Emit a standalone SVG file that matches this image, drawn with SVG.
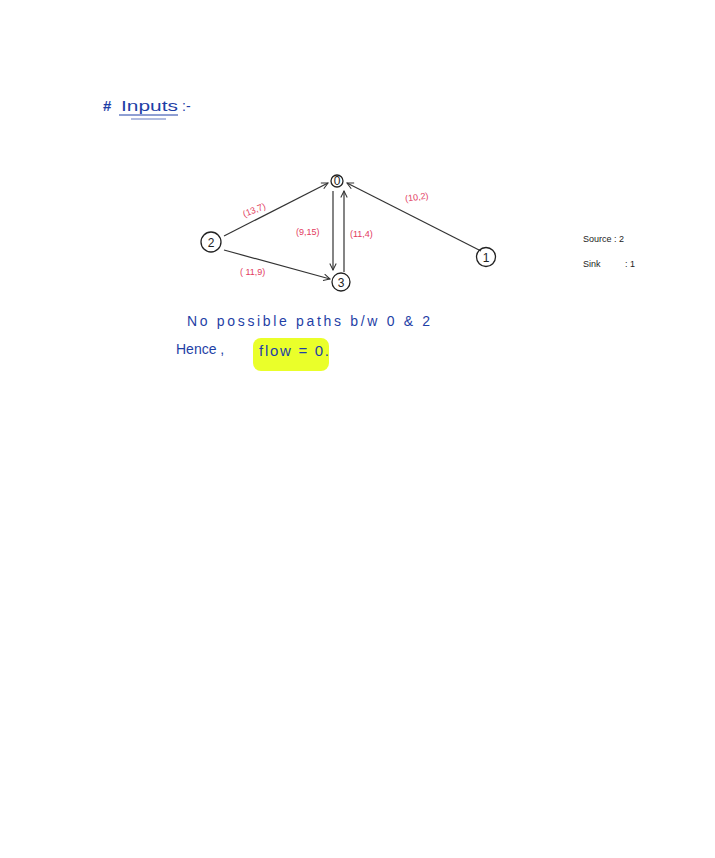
<svg xmlns="http://www.w3.org/2000/svg" width="715" height="858" viewBox="0 0 715 858">
<style>
.bg{fill:#ffffff}
.node circle{fill:none;stroke:#222;stroke-width:1.3}
.node text{font-family:"Liberation Sans",sans-serif;font-size:12px;fill:#222;text-anchor:middle}
.edge{stroke:#333;stroke-width:1.2;fill:none;marker-end:url(#ah)}
.lbl{font-family:"Liberation Sans",sans-serif;font-size:9px;fill:#e23b5e}
.blue{font-family:"Liberation Sans",sans-serif;fill:#1f3fa6}
.blk{font-family:"Liberation Sans",sans-serif;font-size:9px;fill:#222}
</style>
<defs>
<marker id="ah" viewBox="0 0 10 10" refX="9" refY="5" markerWidth="8" markerHeight="8" orient="auto" markerUnits="userSpaceOnUse">
<path d="M1,1 L9,5 L1,9" fill="none" stroke="#333" stroke-width="1.3"/>
</marker>
</defs>
<rect class="bg" width="715" height="858"/>

<g id="title">
<text class="blue" x="103" y="111" font-size="15" font-weight="bold">#</text>
<text class="blue" x="121" y="111" font-size="15" textLength="57" lengthAdjust="spacingAndGlyphs">Inputs</text>
<text class="blue" x="182" y="111" font-size="14">:-</text>
<line x1="119" y1="115" x2="178" y2="115" stroke="#1f3fa6" stroke-width="1"/>
<line x1="131" y1="119" x2="166" y2="119" stroke="#1f3fa6" stroke-width="0.7"/>
</g>

<g id="connectors">
<line class="edge" x1="224" y1="236" x2="328" y2="183"/>
<line class="edge" x1="224" y1="250" x2="330" y2="279"/>
<line class="edge" x1="333" y1="191" x2="333" y2="270"/>
<line class="edge" x1="344" y1="272" x2="344" y2="191"/>
<line class="edge" x1="481" y1="251" x2="347" y2="183"/>
<text class="lbl" x="242" y="213" transform="rotate(-22 254 209)">(13,7)</text>
<text class="lbl" x="296" y="235">(9,15)</text>
<text class="lbl" x="350" y="237">(11,4)</text>
<text class="lbl" x="240" y="275">( 11,9)</text>
<text class="lbl" x="405" y="200" transform="rotate(-8 418 197)">(10,2)</text>
</g>

<g id="n0" class="node">
<circle cx="337" cy="181" r="6"/>
<text x="337" y="184.5" font-size="9">0</text>
</g>
<g id="n2" class="node">
<circle cx="211" cy="242" r="10"/>
<text x="211" y="247">2</text>
</g>
<g id="n3" class="node">
<circle cx="341" cy="282" r="9"/>
<text x="341" y="287">3</text>
</g>
<g id="n1" class="node">
<circle cx="486" cy="257" r="9.5"/>
<text x="486" y="262">1</text>
</g>

<g id="info">
<text class="blk" x="583" y="242">Source : 2</text>
<text class="blk" x="583" y="267">Sink</text>
<text class="blk" x="625" y="267">: 1</text>
</g>

<g id="conclusion">
<text class="blue" x="187" y="326" font-size="14" textLength="243" lengthAdjust="spacing">No possible paths b/w 0 &amp; 2</text>
<rect x="253" y="338" width="76" height="33" rx="8" fill="#eaff2a"/>
<text class="blue" x="176" y="354" font-size="14">Hence ,</text>
<text class="blue" x="259" y="356" font-size="15" textLength="70" lengthAdjust="spacing">flow = 0.</text>
</g>
</svg>
